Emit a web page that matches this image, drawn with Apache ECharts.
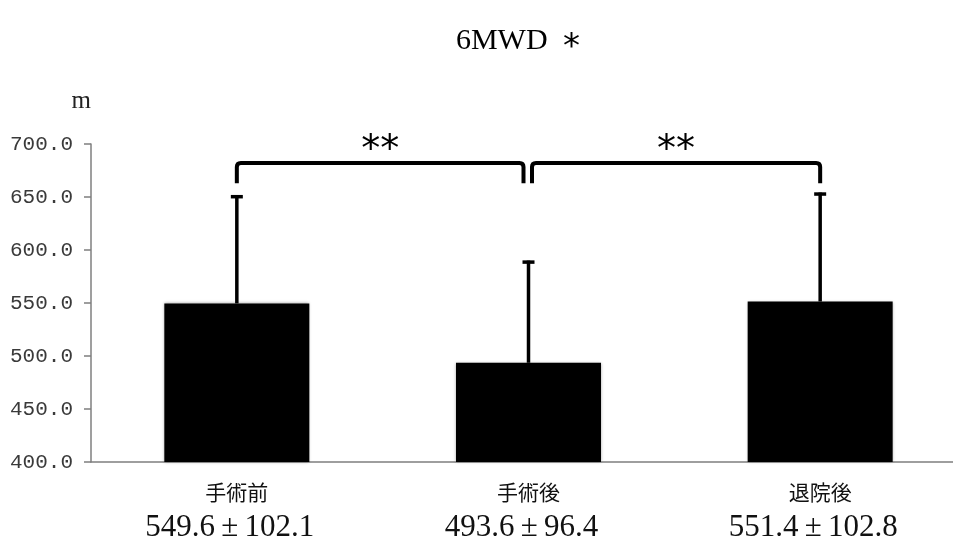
<!DOCTYPE html>
<html>
<head>
<meta charset="utf-8">
<script src="https://cdn.jsdelivr.net/npm/echarts@6/dist/echarts.min.js"></script>
<style>
  html, body { margin: 0; padding: 0; background: #fff; }
  #chart { width: 953px; height: 545px; }
</style>
</head>
<body>
<div id="chart"></div>
<script>
// 6-minute walk distance (m), mean ± SD at three time points
const categories = ['手術前', '手術後', '退院後'];
const means = [549.6, 493.6, 551.4];
const sds = [102.1, 96.4, 102.8];

// Value axis range and step
const yMin = 400;
const yMax = 700;
const yStep = 50;

// Significance brackets: [from category, to category, marker]
const brackets = [
  [0, 1, '**'],
  [1, 2, '**']
];
const bracketTop = 682;   // level of the horizontal bar
const bracketFoot = 663;  // where the legs end

const chart = echarts.init(document.getElementById('chart'));

const errorData = means.map((m, i) => [i, m, m + sds[i]]);
const bracketData = brackets.map(b => [b[0], b[1], bracketTop, bracketFoot, b[2]]);

const option = {
  animation: false,
  backgroundColor: '#ffffff',
  title: {
    text: '6MWD {s|*}',
    left: 513,
    top: 12,
    textAlign: 'center',
    textStyle: {
      fontFamily: 'Liberation Serif',
      fontWeight: 'normal',
      fontSize: 30,
      color: '#000',
      rich: {
        s: { fontFamily: 'DejaVu Sans', fontSize: 34, color: '#000', padding: [14, 0, 0, 8] }
      }
    }
  },
  grid: { left: 91, top: 144, bottom: 83, width: 875, containLabel: false, outerBoundsMode: 'none' },
  xAxis: {
    type: 'category',
    data: categories,
    axisLine: { lineStyle: { color: '#7f7f7f', width: 1.5 } },
    axisTick: { show: false },
    axisLabel: {
      margin: 13,
      interval: 0,
      formatter: (v, i) => '{a|' + v + '}\n{b|' + means[i].toFixed(1) + '\u2009±\u2009' + sds[i].toFixed(1) + '}',
      rich: {
        a: { fontFamily: 'Noto Sans CJK JP', fontSize: 21, lineHeight: 34, color: '#111' },
        b: { fontFamily: 'Liberation Serif', fontSize: 31, lineHeight: 38, color: '#111', padding: [0, 14, 0, 0] }
      }
    }
  },
  yAxis: {
    type: 'value',
    min: yMin,
    max: yMax,
    interval: yStep,
    name: 'm',
    nameLocation: 'end',
    nameGap: 30,
    nameTextStyle: {
      fontFamily: 'Liberation Serif',
      fontSize: 25,
      color: '#222',
      align: 'right',
      padding: [0, 0, 0, 0]
    },
    splitLine: { show: false },
    axisLine: { show: true, lineStyle: { color: '#7f7f7f', width: 1.5 } },
    axisTick: { show: true, inside: false, length: 7, lineStyle: { color: '#7f7f7f', width: 1.5 } },
    axisLabel: {
      margin: 18,
      fontFamily: 'Liberation Mono',
      fontSize: 21,
      color: '#3a3a3a',
      formatter: v => v.toFixed(1)
    }
  },
  series: [
    {
      type: 'bar',
      data: means,
      barWidth: 145,
      itemStyle: {
        color: '#000',
        shadowColor: 'rgba(0,0,0,0.35)',
        shadowBlur: 3
      },
      z: 2
    },
    {
      // upper error whiskers with caps
      type: 'custom',
      data: errorData,
      z: 3,
      renderItem: (params, api) => {
        const base = api.coord([api.value(0), api.value(1)]);
        const top = api.coord([api.value(0), api.value(2)]);
        const capHalf = 6;
        return {
          type: 'group',
          children: [
            {
              type: 'line',
              shape: { x1: base[0], y1: base[1], x2: top[0], y2: top[1] },
              style: { stroke: '#000', lineWidth: 3.5 }
            },
            {
              type: 'line',
              shape: { x1: top[0] - capHalf, y1: top[1] + 1.5, x2: top[0] + capHalf, y2: top[1] + 1.5 },
              style: { stroke: '#000', lineWidth: 3.5 }
            }
          ]
        };
      }
    },
    {
      // significance brackets with markers
      type: 'custom',
      data: bracketData,
      z: 4,
      renderItem: (params, api) => {
        const i0 = api.value(0);
        const i1 = api.value(1);
        // the two brackets share the middle bar; keep their legs apart
        const off0 = params.dataIndex === 0 ? 0 : 3.5;
        const off1 = params.dataIndex === 0 ? -5 : 0;
        const a = api.coord([i0, api.value(3)]);
        const b = api.coord([i1, api.value(3)]);
        const t = api.coord([i0, api.value(2)]);
        const x0 = a[0] + off0;
        const x1 = b[0] + off1;
        const yb = a[1];
        const yt = t[1];
        const r = 4;
        const path = 'M' + x0 + ',' + yb +
          ' L' + x0 + ',' + (yt + r) +
          ' Q' + x0 + ',' + yt + ' ' + (x0 + r) + ',' + yt +
          ' L' + (x1 - r) + ',' + yt +
          ' Q' + x1 + ',' + yt + ' ' + x1 + ',' + (yt + r) +
          ' L' + x1 + ',' + yb;
        return {
          type: 'group',
          children: [
            {
              type: 'path',
              shape: { pathData: path },
              style: { fill: null, stroke: '#000', lineWidth: 4 }
            },
            {
              type: 'text',
              style: {
                text: api.value(4),
                x: (x0 + x1) / 2,
                y: yt - 12,
                align: 'center',
                verticalAlign: 'middle',
                fontFamily: 'DejaVu Sans',
                fontSize: 38,
                fill: '#000'
              }
            }
          ]
        };
      }
    }
  ]
};

chart.setOption(option);
</script>
</body>
</html>
